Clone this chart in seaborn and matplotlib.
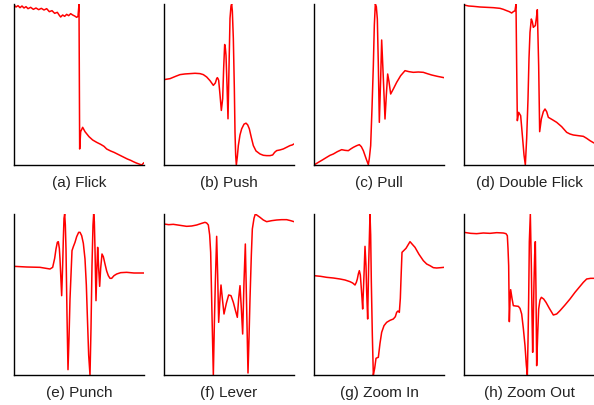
import matplotlib
matplotlib.use("Agg")
import pandas as pd
import matplotlib.pyplot as plt
import seaborn as sns

sns.set_style("white")
plt.rcParams['font.family'] = ['Liberation Sans', 'DejaVu Sans']

# Señales (muestra, amplitud)
flick_t = [0, 6, 12, 18, 24, 30, 36, 42, 50, 58, 66, 74, 82, 90, 98, 106, 114, 122, 130, 136,
           140, 146, 152, 158, 164, 170, 176, 182, 188, 192, 194, 195, 197, 200, 206, 213, 225,
           236, 248, 260, 270, 278, 290, 300, 310, 320, 330, 340, 350, 358, 367, 375, 383, 390]
flick_amp = [480, 474, 478, 472, 477, 471, 475, 469, 473, 467, 471, 466, 470, 465, 469, 460, 463, 455, 458, 449,
             444, 450, 446, 452, 448, 454, 450, 447, 443, 446, 470, 483, 48, 100, 113, 100, 85,
             75, 68, 62, 56, 48, 42, 38, 33, 28, 23, 18, 14, 10, 6, 3, 0, 7]

push_t = [0, 18, 35, 48, 63, 78, 93, 108, 118, 128, 138, 148, 154, 158, 160, 162, 164, 168, 172,
          176, 179, 182, 184, 186, 189, 192, 195, 198, 201, 203, 205, 208, 211, 213, 215, 217,
          220, 223, 228, 233, 240, 246, 251, 256, 262, 268, 276, 288, 298, 308, 318, 326, 332,
          338, 348, 358, 368, 378, 385, 390]
push_amp = [255, 258, 265, 270, 272, 273, 274, 273, 270, 263, 252, 238, 245, 258, 261, 258, 253, 210, 163,
            198, 290, 360, 350, 328, 240, 138, 290, 438, 475, 481, 460, 378, 230, 98, 30, 0,
            25, 58, 90, 108, 122, 125, 120, 108, 82, 58, 42, 33, 29, 28, 28, 30, 38,
            43, 45, 48, 53, 58, 60, 63]

pull_t = [0, 13, 25, 38, 48, 58, 70, 83, 93, 103, 110, 118, 128, 136, 142, 148, 156, 163, 166,
          170, 174, 178, 181, 184, 187, 190, 193, 196, 200, 203, 208, 213, 217, 221, 225, 230,
          239, 248, 260, 273, 285, 298, 313, 328, 340, 353, 370, 390]
pull_amp = [0, 8, 15, 23, 29, 33, 40, 46, 44, 43, 48, 53, 58, 61, 55, 43, 20, 1, 20,
            58, 170, 298, 420, 483, 475, 438, 300, 128, 260, 375, 260, 138, 210, 273, 250, 213,
            230, 248, 268, 283, 280, 278, 279, 278, 274, 270, 266, 262]

dflick_t = [0, 14, 28, 48, 68, 88, 108, 118, 128, 136, 143, 148, 153, 156, 158, 160, 164, 170,
            176, 180, 184, 188, 192, 195, 198, 202, 205, 208, 211, 214, 217, 220, 224, 227,
            232, 238, 243, 248, 253, 265, 278, 293, 308, 318, 328, 343, 358, 368, 378, 390]
dflick_amp = [480, 477, 476, 474, 473, 472, 470, 467, 463, 460, 456, 460, 463, 483, 298, 133, 158, 148,
              78, 30, 0, 80, 198, 320, 398, 438, 430, 413, 416, 418, 440, 466, 298, 100,
              138, 160, 168, 160, 143, 136, 128, 115, 98, 93, 90, 88, 86, 80, 73, 66]

punch_t = [0, 38, 78, 108, 116, 122, 126, 130, 133, 136, 138, 143, 146, 148, 150, 152, 154, 156,
           159, 162, 165, 168, 174, 178, 183, 188, 194, 198, 203, 208, 213, 217, 220, 224, 228,
           231, 234, 237, 239, 241, 243, 246, 249, 251, 254, 257, 260, 264, 268, 273, 278, 283,
           288, 293, 300, 308, 320, 338, 360, 390]
punch_amp = [326, 324, 323, 318, 323, 350, 378, 398, 400, 380, 348, 238, 330, 408, 470, 483, 450, 378,
             180, 16, 110, 228, 373, 385, 398, 415, 428, 428, 418, 395, 348, 270, 178, 60, 0,
             140, 328, 450, 483, 460, 378, 223, 330, 383, 320, 266, 320, 363, 355, 333, 312, 298,
             290, 290, 298, 303, 307, 308, 306, 306]

lever_t = [0, 14, 28, 48, 68, 83, 98, 113, 123, 128, 133, 137, 140, 144, 148, 151, 154, 158,
           161, 164, 168, 171, 175, 180, 187, 194, 201, 208, 214, 220, 224, 228, 232, 236,
           240, 244, 248, 252, 255, 258, 262, 265, 270, 274, 281, 288, 298, 308, 323, 338,
           353, 368, 380, 390]
lever_amp = [453, 451, 452, 449, 446, 447, 450, 455, 458, 456, 450, 420, 368, 180, 0, 150, 278, 416,
             300, 158, 230, 270, 230, 183, 215, 240, 238, 218, 195, 173, 230, 268, 200, 123,
             280, 393, 200, 6, 110, 228, 360, 438, 470, 483, 478, 473, 465, 460, 463, 465,
             466, 466, 463, 460]

zoomin_t = [0, 20, 38, 58, 78, 93, 108, 116, 123, 127, 130, 133, 136, 139, 141, 144, 146, 150,
            153, 156, 158, 161, 164, 168, 170, 172, 175, 178, 182, 186, 190, 193, 198, 203,
            210, 218, 228, 238, 244, 248, 252, 256, 259, 261, 264, 270, 276, 282, 288, 295,
            303, 315, 328, 338, 348, 358, 368, 380, 390]
zoomin_amp = [298, 296, 293, 291, 288, 285, 280, 276, 270, 278, 288, 303, 313, 300, 273, 230, 198, 300,
              386, 328, 250, 168, 330, 483, 420, 278, 120, 0, 20, 50, 52, 53, 95, 128,
              148, 158, 164, 168, 175, 188, 192, 188, 230, 288, 368, 374, 380, 390, 400, 392,
              383, 362, 343, 333, 328, 322, 321, 322, 323]

zoomout_t = [0, 20, 38, 58, 78, 98, 118, 126, 130, 132, 134, 136, 138, 140, 144, 148, 155, 163,
             168, 173, 178, 183, 187, 190, 192, 194, 196, 199, 202, 204, 206, 208, 210, 212,
             214, 216, 218, 221, 224, 228, 232, 239, 246, 256, 268, 278, 288, 303, 318, 333,
             348, 358, 368, 380, 390]
zoomout_amp = [428, 425, 424, 426, 425, 427, 426, 424, 418, 380, 328, 160, 220, 256, 230, 208, 207, 206,
               200, 183, 140, 88, 30, 0, 100, 228, 400, 483, 328, 180, 68, 170, 278, 360,
               400, 250, 28, 120, 198, 225, 233, 228, 218, 200, 180, 183, 193, 210, 228, 248,
               266, 278, 288, 290, 290]

titles = ['(a) Flick', '(b) Push', '(c) Pull', '(d) Double Flick',
          '(e) Punch', '(f) Lever', '(g) Zoom In', '(h) Zoom Out']
series = [(flick_t, flick_amp), (push_t, push_amp), (pull_t, pull_amp), (dflick_t, dflick_amp),
          (punch_t, punch_amp), (lever_t, lever_amp), (zoomin_t, zoomin_amp), (zoomout_t, zoomout_amp)]

fig = plt.figure(figsize=(5.94, 4.06), dpi=100)
lefts = [14, 164, 314, 464]
tops = [5, 215]

for i, (title, (t, amp)) in enumerate(zip(titles, series)):
    row, col = divmod(i, 4)
    ax = fig.add_axes([lefts[col] / 594, 1 - (tops[row] + 161) / 406, 130 / 594, 161 / 406])
    df = pd.DataFrame({'t': t, 'amp': amp})
    sns.lineplot(data=df, x='t', y='amp', ax=ax, color='red', linewidth=1.1,
                 sort=False, estimator=None)
    ax.set_xlim(min(t), max(t))
    ax.set_ylim(min(amp), max(amp))
    ax.set_xticks([])
    ax.set_yticks([])
    ax.set_ylabel('')
    ax.set_xlabel(title, fontsize=11, color='#222222', labelpad=7)
    sns.despine(ax=ax)
    for s in ['left', 'bottom']:
        ax.spines[s].set_color('black')
        ax.spines[s].set_linewidth(1.0)

fig.savefig('out.png', dpi=100)
